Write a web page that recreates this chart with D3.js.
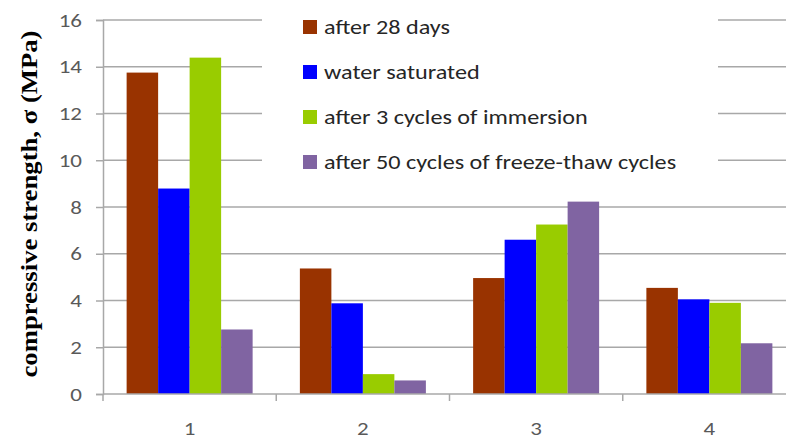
<!DOCTYPE html>
<html>
<head>
<meta charset="utf-8">
<script src="https://cdn.jsdelivr.net/npm/d3@7"></script>
<style>
  html, body { margin: 0; padding: 0; background: #fff; }
  svg { display: block; }
</style>
</head>
<body>
<svg id="chart" width="786" height="439"></svg>
<script>
// Compressive strength of samples 1-4 under four conditioning regimes
const categories = ["1", "2", "3", "4"];
const seriesNames = [
  "after 28 days",
  "water saturated",
  "after 3 cycles of immersion",
  "after 50 cycles of freeze-thaw cycles"
];
const after28Days      = [13.75, 5.37, 4.96, 4.54];
const waterSaturated   = [8.79, 3.88, 6.6, 4.05];
const afterImmersion   = [14.39, 0.85, 7.25, 3.9];
const afterFreezeThaw  = [2.76, 0.58, 8.23, 2.17];
const yTicks = [0, 2, 4, 6, 8, 10, 12, 14, 16];
const seriesColors = ["#993300", "#0000FF", "#99CC00", "#8064A2"];

const seriesValues = [after28Days, waterSaturated, afterImmersion, afterFreezeThaw];

const svg = d3.select("#chart");
const plot = { left: 103, right: 796, top: 20, bottom: 394 };

const y = d3.scaleLinear().domain([0, 16]).range([plot.bottom, plot.top]);
const x0 = d3.scaleBand().domain(categories).range([plot.left, plot.right]).paddingInner(0).paddingOuter(0);
const bw = x0.bandwidth();
const barW = bw / (seriesNames.length + 1.5);
const x1 = d3.scaleBand().domain(d3.range(seriesNames.length))
  .range([(bw - barW * seriesNames.length) / 2, (bw + barW * seriesNames.length) / 2])
  .padding(0);

const gridColor = "#a8a8a8";
const tickFont = "Carlito, Lato, 'Open Sans', sans-serif";
const stretch = 1.21; // wide letterforms of the label font

// horizontal gridlines
svg.append("g")
  .selectAll("line")
  .data(yTicks.filter(d => d > 0))
  .join("line")
  .attr("x1", plot.left).attr("x2", 786)
  .attr("y1", d => y(d)).attr("y2", d => y(d))
  .attr("stroke", gridColor).attr("stroke-width", 1.5);

// bars
const groups = svg.append("g")
  .selectAll("g")
  .data(categories)
  .join("g")
  .attr("transform", d => `translate(${x0(d)},0)`);

groups.selectAll("rect")
  .data((c, ci) => seriesValues.map((vals, si) => ({ si, v: vals[ci] })))
  .join("rect")
  .attr("x", d => x1(d.si))
  .attr("width", x1.bandwidth())
  .attr("y", d => y(d.v))
  .attr("height", d => y(0) - y(d.v))
  .attr("fill", d => seriesColors[d.si]);

// y axis
const yAxis = svg.append("g")
  .attr("transform", `translate(${plot.left},0)`)
  .call(d3.axisLeft(y).tickValues(yTicks).tickSize(7).tickFormat(d3.format("d")));
yAxis.select(".domain").attr("stroke", gridColor).attr("stroke-width", 1.5);
yAxis.selectAll(".tick line").attr("stroke", gridColor).attr("stroke-width", 1.5);
yAxis.selectAll(".tick text")
  .attr("x", null)
  .attr("transform", `translate(-21,0) scale(${stretch},1)`)
  .attr("fill", "#595959")
  .style("font-family", tickFont)
  .style("font-size", "19px");

// x axis with boundary ticks between categories
const xAxisG = svg.append("g").attr("transform", `translate(0,${plot.bottom})`);
xAxisG.append("line")
  .attr("x1", plot.left).attr("x2", 786)
  .attr("stroke", gridColor).attr("stroke-width", 1.5);
xAxisG.selectAll("line.tk")
  .data(categories)
  .join("line")
  .attr("class", "tk")
  .attr("x1", d => x0(d)).attr("x2", d => x0(d))
  .attr("y1", 0).attr("y2", 7)
  .attr("stroke", gridColor).attr("stroke-width", 1.5);
xAxisG.selectAll("text")
  .data(categories)
  .join("text")
  .attr("transform", d => `translate(${x0(d) + bw / 2},41) scale(${stretch},1)`)
  .attr("text-anchor", "middle")
  .attr("fill", "#595959")
  .style("font-family", tickFont)
  .style("font-size", "19px")
  .text(d => d);

// y axis title
svg.append("text")
  .attr("transform", "translate(37,204) rotate(-90)")
  .attr("text-anchor", "middle")
  .attr("textLength", 347)
  .attr("lengthAdjust", "spacingAndGlyphs")
  .style("font-family", "'Liberation Serif', 'Times New Roman', serif")
  .style("font-weight", "bold")
  .style("font-size", "24px")
  .attr("fill", "#000")
  .text("compressive strength, σ (MPa)");

// legend
const legend = svg.append("g");
legend.append("rect")
  .attr("x", 262).attr("y", 4).attr("width", 456).attr("height", 182)
  .attr("fill", "#fff");
const items = legend.selectAll("g.item")
  .data(seriesNames)
  .join("g")
  .attr("class", "item")
  .attr("transform", (d, i) => `translate(303,${27 + i * 45})`);
items.append("rect")
  .attr("x", 0).attr("y", -7).attr("width", 14).attr("height", 14)
  .attr("fill", (d, i) => seriesColors[i]);
items.append("text")
  .attr("transform", `translate(21,0) scale(${stretch},1)`)
  .attr("dy", "0.35em")
  .attr("fill", "#262626")
  .style("font-family", tickFont)
  .style("font-size", "20px")
  .text(d => d);
</script>
</body>
</html>
